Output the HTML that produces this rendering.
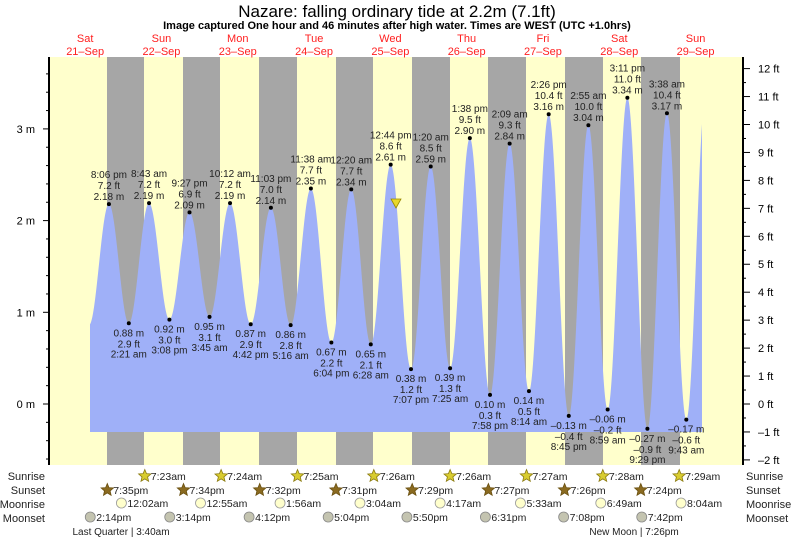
<!DOCTYPE html>
<html><head><meta charset="utf-8"><style>
html,body{margin:0;padding:0;background:#fff;width:793px;height:539px;overflow:hidden}
svg{display:block;font-family:"Liberation Sans",sans-serif}
</style></head><body>
<svg id="s" width="793" height="539" viewBox="0 0 793 539" xmlns="http://www.w3.org/2000/svg">
<text x="397" y="17" font-size="17" text-anchor="middle">Nazare: falling  ordinary tide at 2.2m (7.1ft)</text>
<text x="397" y="29" font-size="11" font-weight="bold" text-anchor="middle">Image captured One hour and 46 minutes after high water. Times are WEST (UTC +1.0hrs)</text>
</svg>
<script>
const S=document.getElementById('s');const NS='http://www.w3.org/2000/svg';
function el(t,a,txt){const e=document.createElementNS(NS,t);for(const k in a)e.setAttribute(k,a[k]);if(txt!==undefined)e.textContent=txt;S.appendChild(e);return e;}
const X=(d,h)=>45+76.3*d+3.18*h;
const Y=m=>404-91.7*m;
// background
el('rect',{x:49,y:57,width:694,height:408,fill:'#ffffcc'});
const nights=[[107,144],[183,220],[259,297],[336,373],[412,450],[488,526],[565,603],[641,680]];
nights.forEach(n=>el('rect',{x:n[0],y:57,width:n[1]-n[0],height:408,fill:'#a6a6a6'}));
// days
const days=[['Sat','21-Sep'],['Sun','22-Sep'],['Mon','23-Sep'],['Tue','24-Sep'],['Wed','25-Sep'],['Thu','26-Sep'],['Fri','27-Sep'],['Sat','28-Sep'],['Sun','29-Sep']];
days.forEach((d,i)=>{const x=X(i,12)+2;el('text',{x:x,y:42,'font-size':11,fill:'#ff2020','text-anchor':'middle'},d[0]);el('text',{x:x,y:55,'font-size':11,fill:'#ff2020','text-anchor':'middle'},d[1].replace('-','\u2013'));});
// tides
const T=[[0,13.83,0.86,0],[0,20.1,2.18,'8:06 pm'],[1,2.35,0.88,'2:21 am'],[1,8.72,2.19,'8:43 am'],[1,15.13,0.92,'3:08 pm'],[1,21.45,2.09,'9:27 pm'],[2,3.75,0.95,'3:45 am'],[2,10.2,2.19,'10:12 am'],[2,16.7,0.87,'4:42 pm'],[2,23.05,2.14,'11:03 pm'],[3,5.27,0.86,'5:16 am'],[3,11.63,2.35,'11:38 am'],[3,18.07,0.67,'6:04 pm'],[4,0.33,2.34,'12:20 am'],[4,6.47,0.65,'6:28 am'],[4,12.73,2.61,'12:44 pm'],[4,19.12,0.38,'7:07 pm'],[5,1.33,2.59,'1:20 am'],[5,7.42,0.39,'7:25 am'],[5,13.63,2.90,'1:38 pm'],[5,19.97,0.10,'7:58 pm'],[6,2.15,2.84,'2:09 am'],[6,8.23,0.14,'8:14 am'],[6,14.43,3.16,'2:26 pm'],[6,20.75,-0.13,'8:45 pm'],[7,2.92,3.04,'2:55 am'],[7,8.98,-0.06,'8:59 am'],[7,15.18,3.34,'3:11 pm'],[7,21.48,-0.27,'9:29 pm'],[8,3.63,3.17,'3:38 am'],[8,9.72,-0.17,'9:43 am'],[8,15.9,3.4,0]];
const P=T.map(t=>[X(t[0],t[1]),t[2]]);
function val(x){for(let i=0;i<P.length-1;i++){if(x>=P[i][0]&&x<=P[i+1][0]){const f=(x-P[i][0])/(P[i+1][0]-P[i][0]);return P[i][1]+(P[i+1][1]-P[i][1])*(1-Math.cos(Math.PI*f))/2;}}return 0;}
let d='M90,432';for(let x=90;x<=702;x+=0.5)d+=' L'+x+','+Y(val(x)).toFixed(1);d+=' L702,432 Z';
el('path',{d:d,fill:'#9fb0f8'});
T.forEach(t=>{if(!t[3])return;const x=X(t[0],t[1]),y=Y(t[2]);el('circle',{cx:x,cy:y,r:2,fill:'#000'});
const ft=(t[2]/0.3048).toFixed(1).replace('-','\u2013');const m=t[2].toFixed(2).replace('-','\u2013')+' m';const a={'font-size':10,'text-anchor':'middle',fill:'#222'};
if(t[2]>1.5){el('text',Object.assign({x:x,y:y-26},a),t[3]);el('text',Object.assign({x:x,y:y-15},a),ft+' ft');el('text',Object.assign({x:x,y:y-4},a),m);}
else{el('text',Object.assign({x:x,y:y+13},a),m);el('text',Object.assign({x:x,y:y+24},a),ft+' ft');el('text',Object.assign({x:x,y:y+34},a),t[3]);}});
// current marker
el('path',{d:'M391,199 L401,199 L396,208 Z',fill:'#e8d82a',stroke:'#998800','stroke-width':0.8});
// axes
el('line',{x1:49,y1:57,x2:49,y2:465,stroke:'#000','stroke-width':2});
el('line',{x1:743,y1:57,x2:743,y2:465,stroke:'#000','stroke-width':2});
for(let v=-0.6;v<=3.75;v+=0.2){const y=Y(v);const maj=Math.abs(v-Math.round(v))<0.01;el('line',{x1:maj?43:46,y1:y,x2:49,y2:y,stroke:'#000','stroke-width':1});if(maj)el('text',{x:35,y:y+4,'font-size':11,'text-anchor':'end'},Math.round(v)+' m');}
for(let v=-2;v<=12.5;v+=0.5){const y=404-v*0.3048*91.7;if(y<57)continue;const maj=v%1===0;el('line',{x1:743,y1:y,x2:maj?750:746,y2:y,stroke:'#000','stroke-width':1});if(maj)el('text',{x:758,y:y+4,'font-size':11},(v<0?'\u2013'+(-v):v)+' ft');}
// bottom rows
['Sunrise','Sunset','Moonrise','Moonset'].forEach((n,i)=>{const y=480+i*14;el('text',{x:45,y:y,'font-size':11,'text-anchor':'end',fill:'#222'},n);el('text',{x:746,y:y,'font-size':11,fill:'#222'},n);});
function star(cx,cy,r,fill,stroke){let p='';for(let k=0;k<10;k++){const a=-Math.PI/2+k*Math.PI/5,rr=k%2?r*0.45:r;p+=(k?'L':'M')+(cx+rr*Math.cos(a)).toFixed(1)+','+(cy+rr*Math.sin(a)).toFixed(1);}el('path',{d:p+'Z',fill:fill,stroke:stroke,'stroke-width':0.8});}
const sr=['7:23am','7:24am','7:25am','7:26am','7:26am','7:27am','7:28am','7:29am'];
const ss=['7:35pm','7:34pm','7:32pm','7:31pm','7:29pm','7:27pm','7:26pm','7:24pm'];
const mr=['12:02am','12:55am','1:56am','3:04am','4:17am','5:33am','6:49am','8:04am'];
const ms=['2:14pm','3:14pm','4:12pm','5:04pm','5:50pm','6:31pm','7:08pm','7:42pm'];
function hh(s){let [h,m]=s.slice(0,-2).split(':').map(Number);if(s.endsWith('pm')&&h<12)h+=12;if(s.endsWith('am')&&h==12)h=0;return h+m/60;}
for(let i=0;i<8;i++){
let x=X(i+1,hh(sr[i]));star(x,476,6.5,'#d8cc30','#8a7a10');el('text',{x:x+6,y:480,'font-size':10.5,fill:'#222'},sr[i]);
x=X(i,hh(ss[i]));star(x,490,6.5,'#8a6a20','#6a5010');el('text',{x:x+6,y:494,'font-size':10.5,fill:'#222'},ss[i]);
x=X(i+1,hh(mr[i]));el('circle',{cx:x,cy:503,r:5,fill:'#ffffcc',stroke:'#999','stroke-width':0.8});el('text',{x:x+6,y:507,'font-size':10.5,fill:'#222'},mr[i]);
x=X(i,hh(ms[i]));el('circle',{cx:x,cy:517,r:5,fill:'#c4c4b0',stroke:'#888','stroke-width':0.8});el('text',{x:x+6,y:521,'font-size':10.5,fill:'#222'},ms[i]);}
el('text',{x:121,y:535,'font-size':10,'text-anchor':'middle',fill:'#222'},'Last Quarter | 3:40am');
el('text',{x:634,y:535,'font-size':10,'text-anchor':'middle',fill:'#222'},'New Moon | 7:26pm');
</script>
</body></html>
